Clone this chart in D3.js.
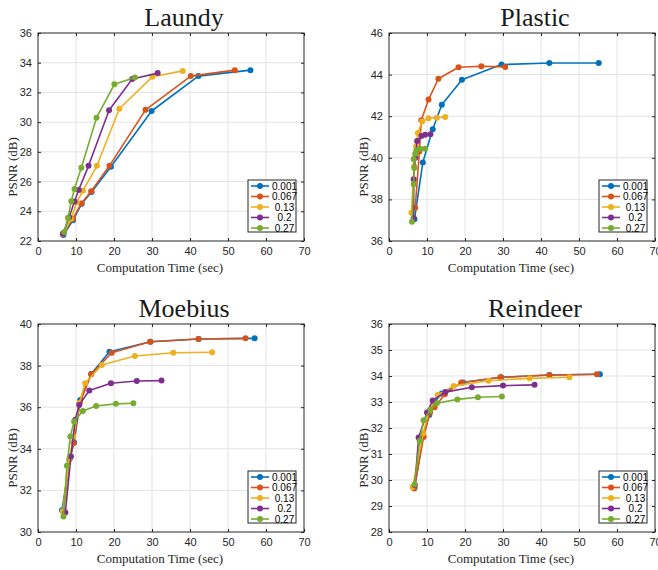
<!DOCTYPE html>
<html>
<head>
<meta charset="utf-8">
<script src="https://cdn.jsdelivr.net/npm/d3@7"></script>
<style>
  body { margin: 0; background: #fff; }
  svg { display: block; }
  .tick text { font-family: "Liberation Sans", Arial, sans-serif; font-size: 11px; fill: #262626; }
  .ttl { font-family: "Liberation Serif", "Times New Roman", serif; font-size: 26px; fill: #1a1a1a; }
  .lab { font-family: "Liberation Serif", "Times New Roman", serif; font-size: 13px; fill: #262626; }
  .leg { font-family: "Liberation Sans", Arial, sans-serif; font-size: 10px; fill: #000; white-space: pre; }
</style>
</head>
<body>
<div id="chart"></div>
<script>
// --- DATA ---
var seriesNames = ["0.001", "0.067", " 0.13", "  0.2", " 0.27"];
var xTicks = [0, 10, 20, 30, 40, 50, 60, 70];

// Laundy: computation time (sec) and PSNR (dB), one row per series
var laundyTime = [
  [6.7, 9.2, 11.5, 14.1, 19.2, 29.9, 42.2, 55.9],
  [6.5, 9.2, 11.4, 14.0, 18.8, 28.3, 40.2, 51.8],
  [6.7, 8.7, 10.2, 11.8, 15.5, 21.4, 30.1, 38.1],
  [6.6, 8.2, 9.6, 10.7, 13.3, 18.7, 24.8, 31.5],
  [6.9, 7.9, 8.75, 9.6, 11.4, 15.4, 20.1, 25.5]
];
var laundyPsnr = [
  [22.4, 23.4, 24.5, 25.3, 27.0, 30.75, 33.1, 33.5],
  [22.47, 23.5, 24.53, 25.35, 27.06, 30.83, 33.1, 33.5],
  [22.5, 23.5, 24.6, 25.38, 27.06, 30.9, 33.05, 33.45],
  [22.5, 23.6, 24.66, 25.43, 27.06, 30.8, 32.9, 33.3],
  [22.6, 23.55, 24.68, 25.5, 26.93, 30.3, 32.55, 33.0]
];

// Plastic
var plasticTime = [
  [6.7, 8.9, 11.5, 13.9, 19.2, 29.6, 42.2, 55.2],
  [6.9, 8.0, 8.5, 10.4, 13.0, 18.3, 24.3, 30.6],
  [5.9, 6.6, 7.1, 7.6, 8.7, 10.4, 12.6, 14.8],
  [6.5, 6.5, 6.9, 7.4, 8.5, 9.5, 10.9],
  [6.05, 6.5, 6.65, 6.5, 6.9, 7.2, 8.2, 9.5]
];
var plasticPsnr = [
  [37.05, 39.77, 41.37, 42.55, 43.75, 44.48, 44.56, 44.56],
  [37.6, 40.3, 41.8, 42.8, 43.8, 44.35, 44.4, 44.37],
  [37.36, 39.6, 40.55, 41.19, 41.75, 41.9, 41.93, 41.96],
  [37.09, 38.97, 40.0, 40.81, 41.05, 41.11, 41.13],
  [36.93, 38.73, 39.51, 39.93, 40.2, 40.35, 40.44, 40.44]
];

// Moebius
var moebiusTime = [
  [6.3, 8.5, 9.5, 11.1, 14.0, 18.8, 29.6, 42.3, 57.0],
  [6.7, 8.3, 9.35, 11.0, 14.0, 19.4, 29.5, 42.2, 54.6],
  [6.5, 8.2, 9.3, 10.9, 12.4, 16.8, 25.5, 35.6, 45.8],
  [7.2, 8.66, 9.8, 10.84, 13.5, 19.2, 26.0, 32.5],
  [6.7, 7.6, 8.5, 9.5, 11.8, 15.3, 20.5, 25.1]
];
var moebiusPsnr = [
  [31.04, 33.6, 34.3, 36.35, 37.6, 38.67, 39.15, 39.28, 39.31],
  [30.95, 33.5, 34.27, 36.2, 37.58, 38.62, 39.15, 39.28, 39.31],
  [31.0, 33.5, 34.6, 36.2, 37.15, 38.03, 38.46, 38.62, 38.64],
  [30.94, 33.63, 35.4, 36.11, 36.8, 37.15, 37.26, 37.28],
  [30.75, 33.18, 34.59, 35.31, 35.82, 36.06, 36.16, 36.19]
];

// Reindeer
var reindeerTime = [
  [6.7, 9.0, 10.6, 12.0, 13.9, 19.5, 29.5, 42.2, 55.5],
  [6.65, 9.1, 10.8, 12.0, 14.7, 19.0, 29.3, 42.2, 54.7],
  [6.2, 9.0, 10.5, 12.8, 17.0, 26.2, 37.0, 47.5],
  [6.8, 7.8, 10.0, 11.5, 14.8, 21.8, 30.0, 38.3],
  [6.74, 8.05, 9.1, 10.9, 12.6, 18.0, 23.4, 29.7]
];
var reindeerPsnr = [
  [29.7, 31.7, 32.5, 33.0, 33.33, 33.75, 33.95, 34.04, 34.07],
  [29.67, 31.65, 32.6, 32.8, 33.3, 33.75, 33.95, 34.04, 34.07],
  [29.73, 31.8, 32.65, 33.27, 33.62, 33.82, 33.91, 33.95],
  [29.8, 31.63, 32.6, 33.06, 33.38, 33.57, 33.63, 33.66],
  [29.83, 31.5, 32.3, 32.7, 32.95, 33.1, 33.18, 33.21]
];

// --- STYLE / LAYOUT ---
var colors = ["#0072BD", "#D95319", "#EDB120", "#7E2F8E", "#77AC30"];
var width = 658, height = 570;

var panels = [
  { title: "Laundy",   time: laundyTime,   psnr: laundyPsnr,   yDomain: [22, 36], yStep: 2, x0: 38,  x1: 304, y0: 33,  y1: 241 },
  { title: "Plastic",  time: plasticTime,  psnr: plasticPsnr,  yDomain: [36, 46], yStep: 2, x0: 389, x1: 655, y0: 33,  y1: 241 },
  { title: "Moebius",  time: moebiusTime,  psnr: moebiusPsnr,  yDomain: [30, 40], yStep: 2, x0: 38,  x1: 304, y0: 324, y1: 532 },
  { title: "Reindeer", time: reindeerTime, psnr: reindeerPsnr, yDomain: [28, 36], yStep: 1, x0: 389, x1: 655, y0: 324, y1: 532 }
];

var svg = d3.select("#chart").append("svg")
  .attr("width", width)
  .attr("height", height);

panels.forEach(function(p) {
  var x = d3.scaleLinear().domain([0, 70]).range([p.x0, p.x1]);
  var y = d3.scaleLinear().domain(p.yDomain).range([p.y1, p.y0]);
  var yTicks = d3.range(p.yDomain[0], p.yDomain[1] + 0.001, p.yStep);
  var g = svg.append("g");

  // grid
  g.selectAll(".gx").data(xTicks.slice(1, -1)).enter().append("line")
    .attr("x1", d => x(d)).attr("x2", d => x(d))
    .attr("y1", p.y0).attr("y2", p.y1)
    .attr("stroke", "#e3e3e3").attr("stroke-width", 1);
  g.selectAll(".gy").data(yTicks.slice(1, -1)).enter().append("line")
    .attr("x1", p.x0).attr("x2", p.x1)
    .attr("y1", d => y(d)).attr("y2", d => y(d))
    .attr("stroke", "#e3e3e3").attr("stroke-width", 1);

  // axes (MATLAB style, inward ticks on all sides)
  var fmt = d3.format("d");
  g.append("g").attr("transform", "translate(0," + p.y1 + ")")
    .call(d3.axisBottom(x).tickValues(xTicks).tickSizeInner(-3).tickSizeOuter(0).tickPadding(6).tickFormat(fmt));
  g.append("g").attr("transform", "translate(0," + p.y0 + ")")
    .call(d3.axisTop(x).tickValues(xTicks).tickSizeInner(-3).tickSizeOuter(0).tickFormat(""));
  g.append("g").attr("transform", "translate(" + p.x0 + ",0)")
    .call(d3.axisLeft(y).tickValues(yTicks).tickSizeInner(-3).tickSizeOuter(0).tickPadding(6).tickFormat(fmt));
  g.append("g").attr("transform", "translate(" + p.x1 + ",0)")
    .call(d3.axisRight(y).tickValues(yTicks).tickSizeInner(-3).tickSizeOuter(0).tickFormat(""));
  g.selectAll(".domain").remove();
  g.selectAll(".tick line").attr("stroke", "#262626");
  g.append("rect")
    .attr("x", p.x0).attr("y", p.y0)
    .attr("width", p.x1 - p.x0).attr("height", p.y1 - p.y0)
    .attr("fill", "none").attr("stroke", "#262626").attr("stroke-width", 1);

  // series
  var line = d3.line().x(d => x(d[0])).y(d => y(d[1]));
  p.time.forEach(function(ts, i) {
    var pts = ts.map((t, j) => [t, p.psnr[i][j]]);
    g.append("path").datum(pts)
      .attr("d", line)
      .attr("fill", "none")
      .attr("stroke", colors[i])
      .attr("stroke-width", 1.6)
      .attr("stroke-linejoin", "round");
    g.selectAll(".m" + i).data(pts).enter().append("circle")
      .attr("cx", d => x(d[0])).attr("cy", d => y(d[1]))
      .attr("r", 3).attr("fill", colors[i]);
  });

  // titles and labels
  var cx = (p.x0 + p.x1) / 2;
  svg.append("text").attr("class", "ttl")
    .attr("x", cx + 13).attr("y", p.y0 - 7)
    .attr("text-anchor", "middle").text(p.title);
  svg.append("text").attr("class", "lab")
    .attr("x", cx - 11).attr("y", p.y1 + 31)
    .attr("text-anchor", "middle").text("Computation Time (sec)");
  svg.append("text").attr("class", "lab")
    .attr("transform", "translate(" + (p.x0 - 21) + "," + ((p.y0 + p.y1) / 2 + 30) + ") rotate(-90)")
    .attr("text-anchor", "middle").text("PSNR (dB)");

  // legend
  var lx = p.x1 - 56, ly = p.y1 - 61, rowH = 10.5;
  var leg = svg.append("g").attr("transform", "translate(" + lx + "," + ly + ")");
  leg.append("rect")
    .attr("width", 48).attr("height", 52)
    .attr("fill", "#fff").attr("stroke", "#262626").attr("stroke-width", 1);
  seriesNames.forEach(function(name, i) {
    var ry = 6 + i * rowH;
    leg.append("line")
      .attr("x1", 3).attr("x2", 21).attr("y1", ry).attr("y2", ry)
      .attr("stroke", colors[i]).attr("stroke-width", 1.6);
    leg.append("circle").attr("cx", 12).attr("cy", ry).attr("r", 3).attr("fill", colors[i]);
    leg.append("text").attr("class", "leg")
      .attr("x", 24).attr("y", ry + 3.5).text(name);
  });
});
</script>
</body>
</html>
